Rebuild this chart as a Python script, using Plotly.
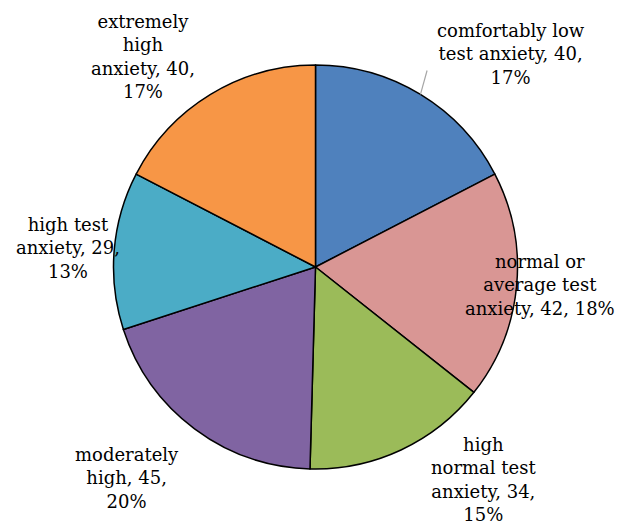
import math
import plotly.graph_objects as go

# Test anxiety categories and respondent counts
categories = [
    "comfortably low test anxiety",
    "normal or average test anxiety",
    "high normal test anxiety",
    "moderately high",
    "high test anxiety",
    "extremely high anxiety",
]
counts = [40, 42, 34, 45, 29, 40]
colors = ["#4F81BD", "#D99694", "#9BBB59", "#8064A2", "#4BACC6", "#F79646"]

# Label wrapping templates ({v} = count, {p} = percent)
label_templates = [
    "comfortably low<br>test anxiety, {v},<br>{p}%",
    "normal or<br>average test<br>anxiety, {v}, {p}%",
    "high<br>normal test<br>anxiety, {v},<br>{p}%",
    "moderately<br>high, {v},<br>{p}%",
    "high test<br>anxiety, {v},<br>{p}%",
    "extremely<br>high<br>anxiety, {v},<br>{p}%",
]
# Label centres in pixels (layout only)
label_pos = [(511, 54), (540, 285), (483, 479), (127, 478), (68, 248), (143, 57)]

W, H = 621, 528
cx, cy, R = 315.5, 267, 202
FONT = dict(family="DejaVu Serif", size=18, color="#000000")


def px(x, y):
    return x / W, 1 - y / H


total = sum(counts)
fig = go.Figure(
    go.Pie(
        labels=categories,
        values=counts,
        sort=False,
        direction="clockwise",
        rotation=0,
        marker=dict(colors=colors, line=dict(color="#000000", width=1.5)),
        textinfo="none",
        hoverinfo="label+value+percent",
        domain=dict(x=[(cx - R) / W, (cx + R) / W], y=[1 - (cy + R) / H, 1 - (cy - R) / H]),
        showlegend=False,
    )
)

annotations = []
for tpl, v, (lx, ly) in zip(label_templates, counts, label_pos):
    p = round(100 * v / total)
    x, y = px(lx, ly)
    annotations.append(
        dict(
            text=tpl.format(v=v, p=p),
            x=x, y=y, xref="paper", yref="paper",
            xanchor="center", yanchor="middle", align="center",
            showarrow=False, font=FONT,
        )
    )

# Leader line for the first slice, from its rim midpoint outward
mid = 2 * math.pi * (counts[0] / 2) / total
x0, y0 = cx + R * math.sin(mid), cy - R * math.cos(mid)
x1, y1 = cx + (R + 24) * math.sin(mid - 0.03), cy - (R + 24) * math.cos(mid - 0.03)
(px0, py0), (px1, py1) = px(x0, y0), px(x1, y1)
shapes = [
    dict(type="line", xref="paper", yref="paper", x0=px0, y0=py0, x1=px1, y1=py1,
         line=dict(color="#A6A6A6", width=1.2))
]

fig.update_layout(
    width=W, height=H,
    margin=dict(l=0, r=0, t=0, b=0),
    paper_bgcolor="#FFFFFF",
    plot_bgcolor="#FFFFFF",
    annotations=annotations,
    shapes=shapes,
)
fig.write_html("out.html")
